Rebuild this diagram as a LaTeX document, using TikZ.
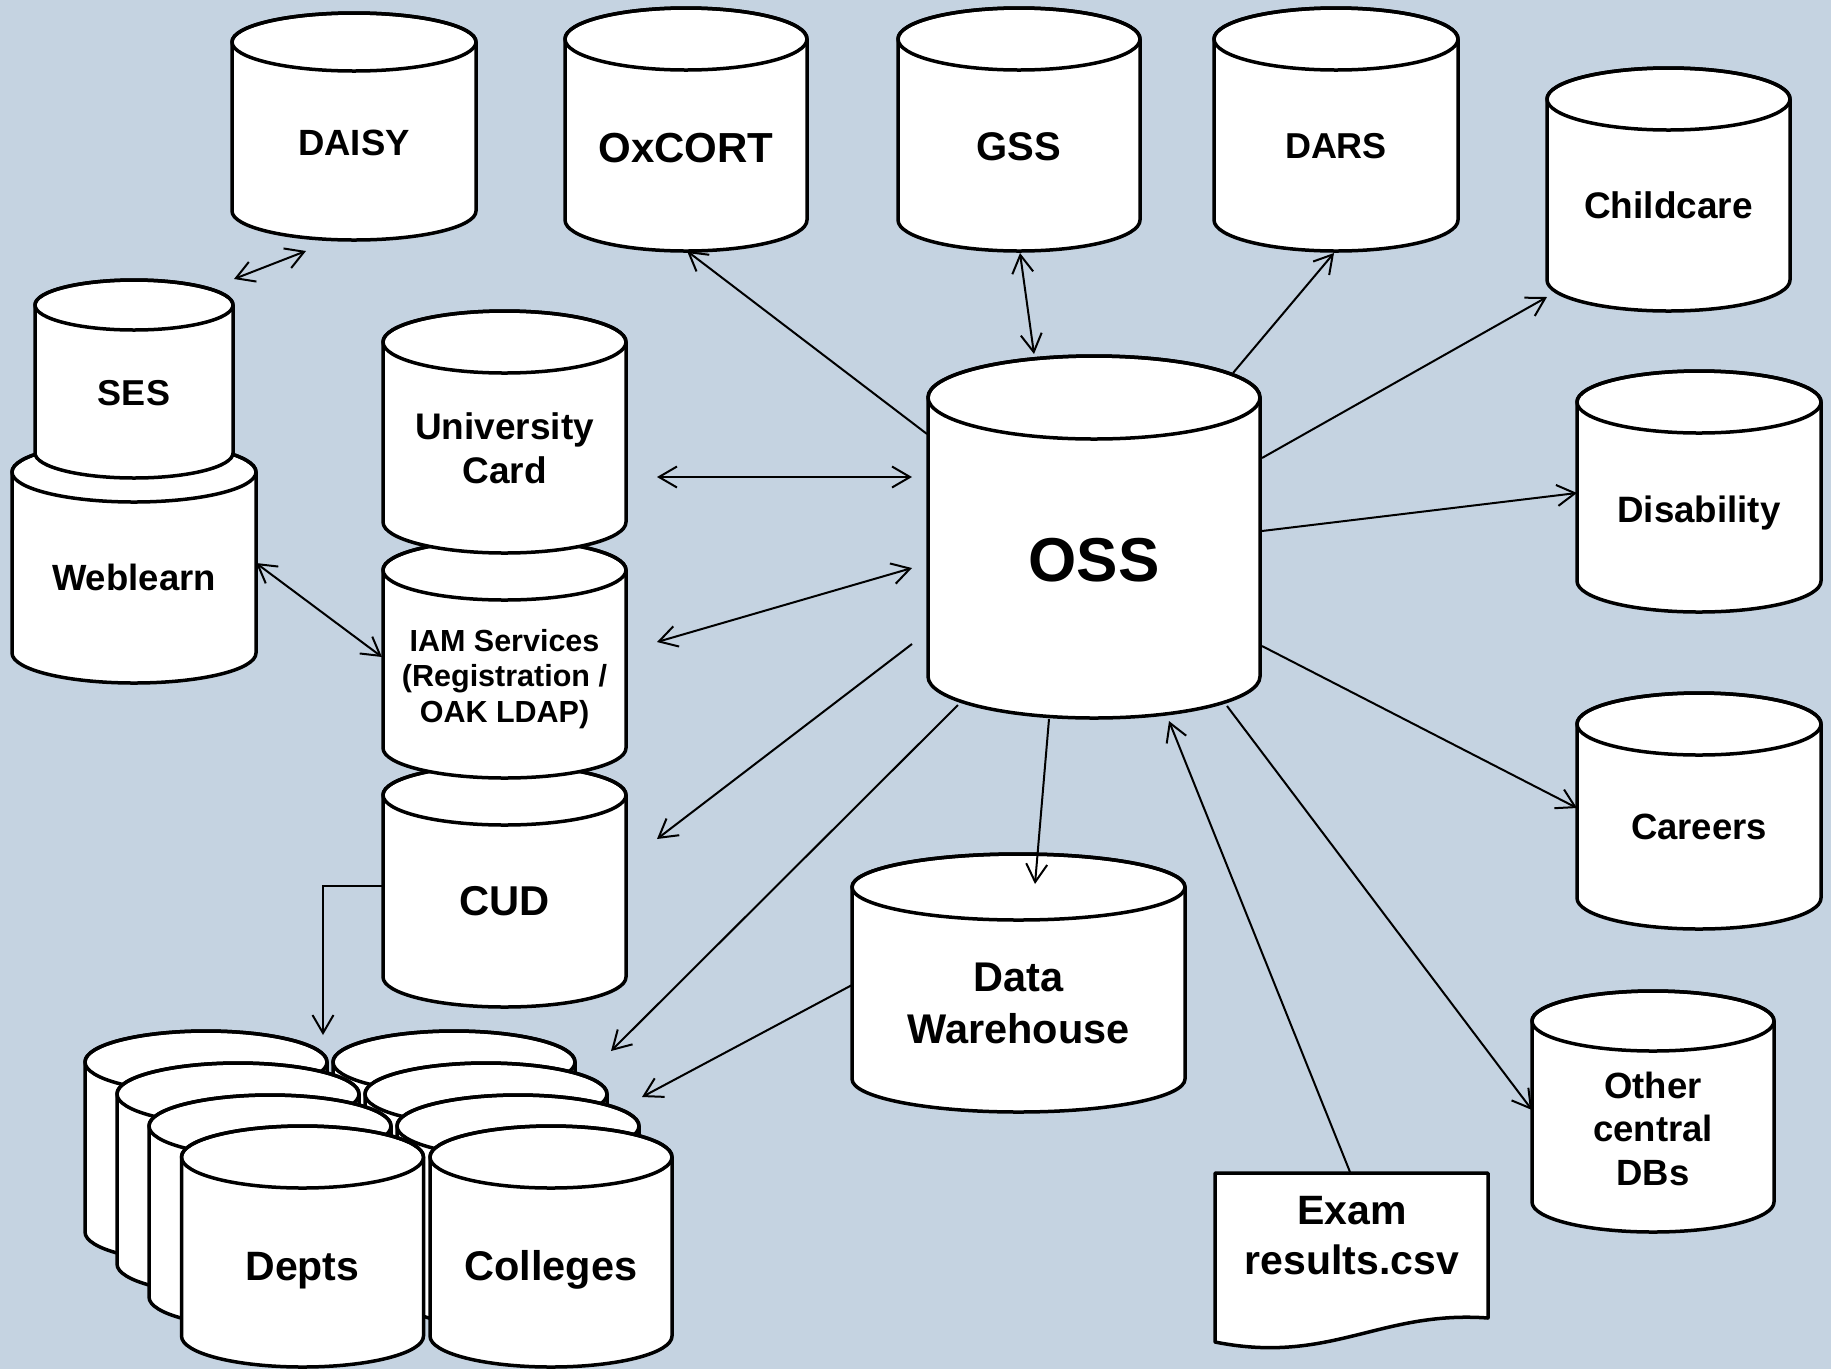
\documentclass[tikz,border=0pt]{standalone}
\usepackage{fontspec}
\setmainfont{Liberation Sans}
\usetikzlibrary{arrows.meta}
\definecolor{bgc}{RGB}{197,211,225}
\newcommand\dbcyl[5]{%
 \filldraw[cylstyle] ({#1-#4},{-#2}) -- ({#1-#4},{-#3}) arc[start angle=180,end angle=360,x radius=#4,y radius=#5] -- ({#1+#4},{-#2}) arc[start angle=0,end angle=180,x radius=#4,y radius=#5] -- cycle;
 \draw[cylstyle,fill=none] (#1,{-#2}) ellipse[x radius=#4,y radius=#5];
}
\begin{document}
\begin{tikzpicture}[x=1pt,y=1pt,
  cylstyle/.style={fill=white,draw=black,line width=3.5pt,line join=round},
  conn/.style={draw=black,line width=2pt},
  >={Straight Barb[length=18pt,width=21pt]},
  lbl/.style={inner sep=0pt,align=center}]
\useasboundingbox (0,0) rectangle (1831,-1369);
\fill[bgc] (0,0) rectangle (1831,-1369);

% top row
\dbcyl{354}{42}{211}{122}{29}
\dbcyl{686}{39}{220}{121}{31}
\dbcyl{1019}{39}{220}{121}{31}
\dbcyl{1336}{39}{220}{122}{31}
\dbcyl{1668.5}{99}{280}{121.5}{31}
\dbcyl{1699}{402}{581}{122}{31}
\dbcyl{1699}{724}{898}{122}{31}
\dbcyl{1653}{1021}{1202}{121}{30}
% OSS and DW
\dbcyl{1094}{397.5}{676.5}{166}{41.5}
\dbcyl{1018.5}{887}{1079}{166.5}{33}
% Weblearn + SES
\dbcyl{134}{472}{653}{122}{30}
\dbcyl{134}{305}{453}{99}{25}
% CUD, IAM, Card
\dbcyl{504.5}{795}{977}{121.5}{30}
\dbcyl{504.5}{570}{748}{121.5}{30}
\dbcyl{504.5}{342}{522}{121.5}{31}
% Depts / Colleges stacks
\dbcyl{206}{1062}{1232}{121}{31}
\dbcyl{454}{1062}{1232}{121}{31}
\dbcyl{238}{1094}{1264}{121}{31}
\dbcyl{486}{1094}{1264}{121}{31}
\dbcyl{270}{1126}{1297}{121}{31}
\dbcyl{518}{1126}{1297}{121}{31}
\dbcyl{302.5}{1157}{1336}{121}{31}
\dbcyl{551}{1157}{1336}{121}{31}
% document
\filldraw[cylstyle] (1215,-1173) -- (1488,-1173) -- (1488,-1318) .. controls (1380,-1310) and (1330,-1365) .. (1215,-1342) -- cycle;

% labels
\node[lbl,anchor=base,font=\bfseries\fontsize{36.5}{44}\selectfont] (daisy) at (354,-155) {DAISY};
\node[lbl,anchor=base,font=\bfseries\fontsize{42}{48}\selectfont] (oxcort) at (686,-162) {OxCORT};
\node[lbl,anchor=base,font=\bfseries\fontsize{40}{48}\selectfont] (gss) at (1019,-160) {GSS};
\node[lbl,anchor=base,font=\bfseries\fontsize{36}{44}\selectfont] (dars) at (1336,-158) {DARS};
\node[lbl,anchor=base,font=\bfseries\fontsize{37}{44}\selectfont] (childcare) at (1668.5,-218) {Childcare};
\node[lbl,anchor=base,font=\bfseries\fontsize{36.7}{44}\selectfont] (disability) at (1699,-522) {Disability};
\node[lbl,anchor=base,font=\bfseries\fontsize{62}{70}\selectfont] (oss) at (1094,-581) {OSS};
\node[lbl,anchor=base,font=\bfseries\fontsize{36}{44}\selectfont] (ses) at (134,-405) {SES};
\node[lbl,anchor=base,font=\bfseries\fontsize{36.5}{44}\selectfont] (weblearn) at (134,-590) {Weblearn};
\node[lbl,font=\bfseries\fontsize{37}{44}\selectfont] (card) at (504.5,-448) {University\\Card};
\node[lbl,font=\bfseries\fontsize{30.5}{35.5}\selectfont] (iam) at (504.5,-679) {IAM Services\\(Registration /\\OAK LDAP)};
\node[lbl,anchor=base,font=\bfseries\fontsize{41.7}{48}\selectfont] (cud) at (504.5,-915) {CUD};
\node[lbl,anchor=base,font=\bfseries\fontsize{41}{48}\selectfont] (depts) at (302.5,-1280) {Depts};
\node[lbl,anchor=base,font=\bfseries\fontsize{41.5}{48}\selectfont] (colleges) at (551,-1280) {Colleges};
\node[lbl,font=\bfseries\fontsize{41.5}{52}\selectfont] (dw) at (1018.5,-1003) {Data\\Warehouse};
\node[lbl,anchor=base,font=\bfseries\fontsize{36.5}{44}\selectfont] (careers) at (1699,-839) {Careers};
\node[lbl,font=\bfseries\fontsize{36.5}{43.5}\selectfont] (other) at (1653,-1128.5) {Other\\central\\DBs};
\node[lbl,font=\bfseries\fontsize{41}{50}\selectfont] (exam) at (1352,-1236) {Exam\\results.csv};

% connector end points
\coordinate (sesE) at (234,-279);   \coordinate (daisyS) at (306,-251);
\coordinate (ossOx) at (927,-434);  \coordinate (oxS) at (687,-251);
\coordinate (gssS) at (1020,-253);  \coordinate (ossG) at (1034,-354);
\coordinate (ossD) at (1233,-373);  \coordinate (darsS) at (1334,-253);
\coordinate (ossC) at (1262,-458);  \coordinate (childW) at (1547,-297);
\coordinate (ossDi) at (1262,-531); \coordinate (disW) at (1577,-493);
\coordinate (ossCa) at (1262,-646); \coordinate (carW) at (1577,-808);
\coordinate (ossO) at (1227,-706);  \coordinate (othW) at (1532,-1110);
\coordinate (examN) at (1350,-1172);\coordinate (ossE) at (1169,-721);
\coordinate (ossW) at (1049,-719);  \coordinate (dwN) at (1035,-884);
\coordinate (ossCo) at (958,-705);  \coordinate (colN) at (611,-1051);
\coordinate (dwW) at (852,-985);    \coordinate (colE) at (642,-1097);
\coordinate (ossCu) at (912,-644);  \coordinate (cudE) at (657,-839);
\coordinate (iamE) at (657,-642);   \coordinate (ossI) at (912,-568);
\coordinate (cardE) at (657,-477);  \coordinate (ossU) at (912,-477);
\coordinate (webE) at (256,-563);   \coordinate (iamW) at (382,-657);
\coordinate (cudW) at (383,-886);   \coordinate (deptN) at (323,-1035);

% connectors
\draw[conn,<->] (sesE) -- (daisyS);
\draw[conn,->] (ossOx) -- (oxS);
\draw[conn,<->] (gssS) -- (ossG);
\draw[conn,->] (ossD) -- (darsS);
\draw[conn,->] (ossC) -- (childW);
\draw[conn,->] (ossDi) -- (disW);
\draw[conn,->] (ossCa) -- (carW);
\draw[conn,->] (ossO) -- (othW);
\draw[conn,->] (examN) -- (ossE);
\draw[conn,->] (ossW) -- (dwN);
\draw[conn,->] (ossCo) -- (colN);
\draw[conn,->] (dwW) -- (colE);
\draw[conn,->] (ossCu) -- (cudE);
\draw[conn,<->] (iamE) -- (ossI);
\draw[conn,<->] (cardE) -- (ossU);
\draw[conn,<->] (webE) -- (iamW);
\draw[conn,->] (cudW) -| (deptN);
\end{tikzpicture}
\end{document}
